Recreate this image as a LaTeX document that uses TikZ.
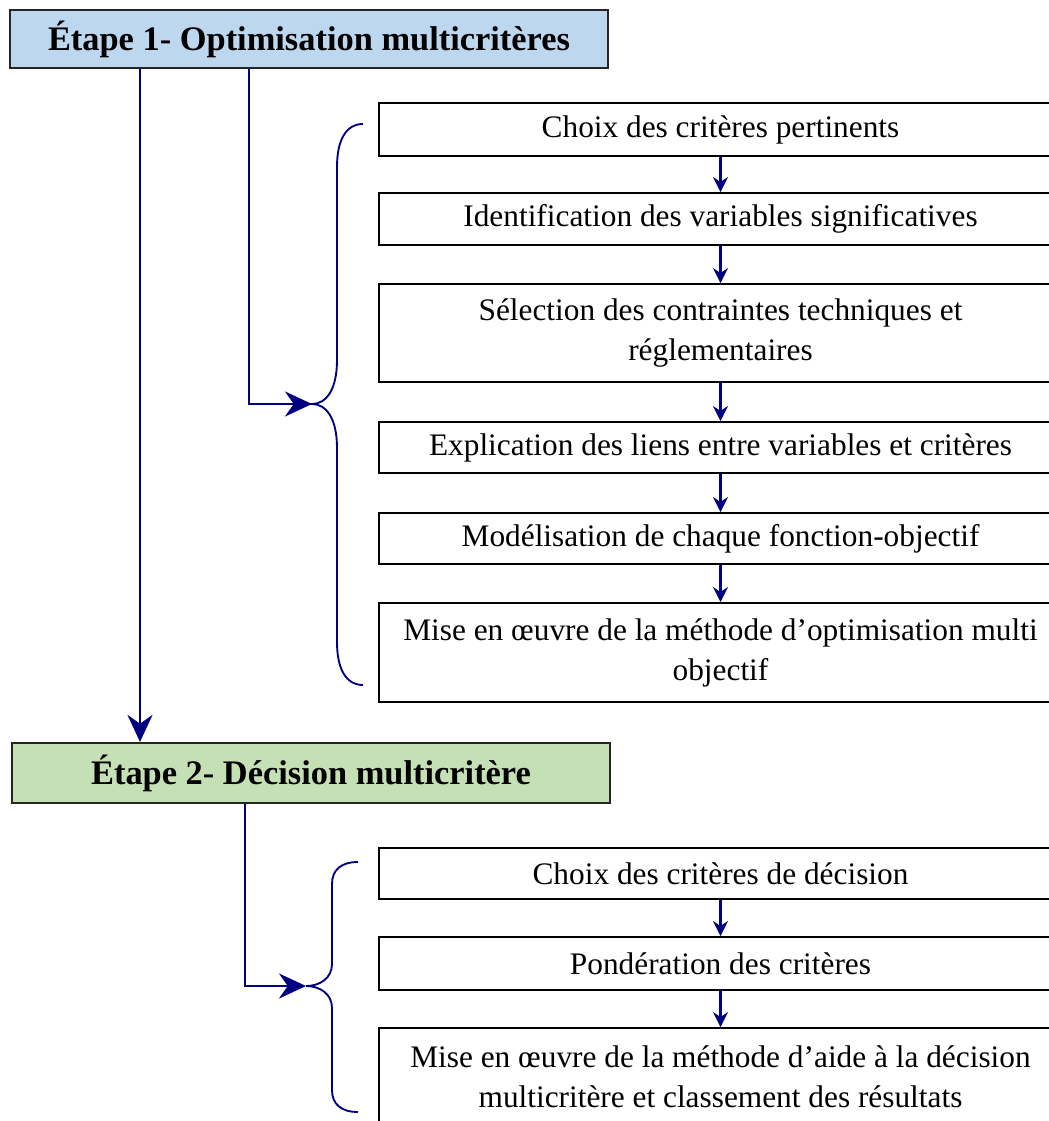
\documentclass[tikz,border=0pt]{standalone}
\usepackage{fontspec}
\setmainfont{Liberation Serif}
\usetikzlibrary{arrows.meta}
\newdimen\upx \upx=0.75pt
\definecolor{flowblue}{RGB}{0,0,128}
\definecolor{stageblue}{RGB}{189,215,238}
\definecolor{stagegreen}{RGB}{197,224,180}
\tikzset{
  stage/.style={draw=black!85, line width=1.6pt, minimum width=598\upx, inner sep=0pt,
    font=\fontsize{25.8}{30}\selectfont\bfseries},
  stepbox/.style={draw=black, line width=1.4pt, minimum width=683\upx, inner sep=0pt,
    align=center, font=\fontsize{23.5}{30}\selectfont},
  bigflow/.style={draw=flowblue, line width=2pt, -{Stealth[length=20.25pt,width=18.75pt]}},
  smallflow/.style={draw=flowblue, line width=1.7pt, -{Stealth[length=11.25pt,width=11.25pt]}},
  bracket/.style={draw=flowblue, line width=1.4pt},
}
\begin{document}
\begin{tikzpicture}[x=0.75pt,y=-0.75pt]
\useasboundingbox (0,0) rectangle (1049,1121);
\clip (0,0) rectangle (1049,1121);

% stage headers
\node[stage, fill=stageblue, minimum height=58\upx] (t1) at (309,39) {Étape 1- Optimisation multicritères};
\node[stage, fill=stagegreen, minimum height=60\upx] (t2) at (311,773) {Étape 2- Décision multicritère};

% steps of stage 1
\node[stepbox, minimum height=53\upx] (b1) at (720.5,129.5) {Choix des critères pertinents};
\node[stepbox, minimum height=52\upx] (b2) at (720.5,219) {Identification des variables significatives};
\node[stepbox, minimum height=98\upx] (b3) at (720.5,333) {Sélection des contraintes techniques et\\réglementaires};
\node[stepbox, minimum height=51\upx] (b4) at (720.5,447.5) {Explication des liens entre variables et critères};
\node[stepbox, minimum height=51\upx] (b5) at (720.5,538.5) {Modélisation de chaque fonction-objectif};
\node[stepbox, minimum height=99\upx] (b6) at (720.5,652.5) {Mise en œuvre de la méthode d’optimisation multi\\objectif};

% steps of stage 2
\node[stepbox, minimum height=51\upx] (c1) at (720.5,873.5) {Choix des critères de décision};
\node[stepbox, minimum height=53\upx] (c2) at (720.5,963.5) {Pondération des critères};
\node[stepbox, minimum height=98\upx] (c3) at (720.5,1077) {Mise en œuvre de la méthode d’aide à la décision\\multicritère et classement des résultats};

% chaining arrows
\foreach \p/\q in {b1/b2,b2/b3,b3/b4,b4/b5,b5/b6,c1/c2,c2/c3}
  \draw[smallflow] (\p.south) -- (\q.north);

% main flow lines
\coordinate (ma) at (140,0);
\coordinate (mb) at (249,0);
\coordinate (mc) at (245,0);
\coordinate (tip1) at (312,404);
\coordinate (tip2) at (306,986);
\draw[bigflow] (t1.south -| ma) -- (t2.north -| ma);
\draw[bigflow] (t1.south -| mb) |- (tip1);
\draw[bigflow] (t2.south -| mc) |- (tip2);

% curly brackets
\draw[bracket] (363,124) .. controls (346,124) and (337,140) .. (337,167)
  -- (337,360) .. controls (337,390) and (326,404) .. (tip1)
  .. controls (326,404) and (337,418) .. (337,448)
  -- (337,642) .. controls (337,669) and (346,685) .. (363,685);
\draw[bracket] (358,862) .. controls (341,862) and (332,870) .. (332,884)
  -- (332,964) .. controls (332,978) and (320,986) .. (tip2)
  .. controls (320,986) and (332,994) .. (332,1008)
  -- (332,1090) .. controls (332,1104) and (341,1112) .. (358,1112);
\end{tikzpicture}
\end{document}
